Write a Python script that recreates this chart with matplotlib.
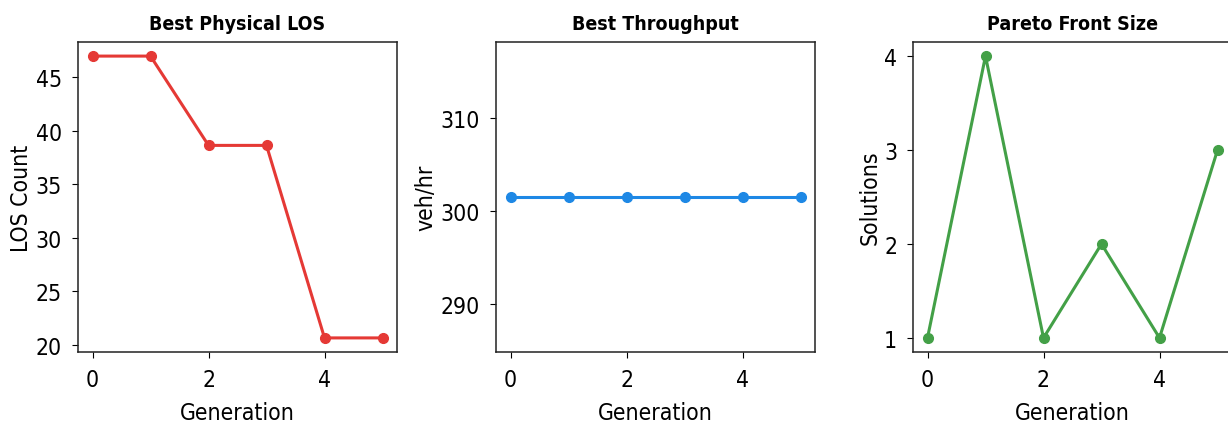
"""
GA run summary: best LOS, best throughput and Pareto front size per generation.
"""

import matplotlib

matplotlib.use("Agg")
import matplotlib.pyplot as plt

generations = [0, 1, 2, 3, 4, 5]
best_los = [47.0, 47.0, 38.65, 38.65, 20.65, 20.65]
best_throughput = [301.5, 301.5, 301.5, 301.5, 301.5, 301.5]
pareto_size = [1, 4, 1, 2, 1, 3]

titles = ["Best Physical LOS", "Best Throughput", "Pareto Front Size"]
ylabels = ["LOS Count", "veh/hr", "Solutions"]
colors = ["#e53935", "#1e88e5", "#43a047"]
xticks = [0, 2, 4]
yticks = [
    [20, 25, 30, 35, 40, 45],
    [290, 300, 310],
    [1, 2, 3, 4],
]

W, H = 1228, 427
# axes boxes in pixels: left, top, width, height
boxes = [(78, 43, 319, 310), (496, 43, 319, 310), (913, 43, 319, 310)]

font = ["DejaVu Sans Condensed", "DejaVu Sans"]
plt.rcParams["font.family"] = font
plt.rcParams["font.stretch"] = "condensed"

fig = plt.figure(figsize=(W / 100, H / 100), dpi=100)

series = [best_los, best_throughput, pareto_size]

for i, values in enumerate(series):
    left, top, width, height = boxes[i]
    ax = fig.add_axes([left / W, 1 - (top + height) / H, width / W, height / H])
    ax.plot(
        generations,
        values,
        color=colors[i],
        linewidth=2.2,
        marker="o",
        markersize=7,
    )
    ax.set_title(titles[i], fontsize=14, fontweight="bold", pad=9)
    ax.set_xlabel("Generation", fontsize=16.5, labelpad=7)
    ax.set_ylabel(ylabels[i], fontsize=16.5, labelpad=2)
    ax.set_xticks(xticks)
    ax.set_yticks(yticks[i])
    ax.tick_params(labelsize=16.5, pad=7, length=4.5)
    for spine in ax.spines.values():
        spine.set_linewidth(1.1)
        spine.set_color("#222222")

fig.savefig("out.png", dpi=100)
plt.close(fig)
